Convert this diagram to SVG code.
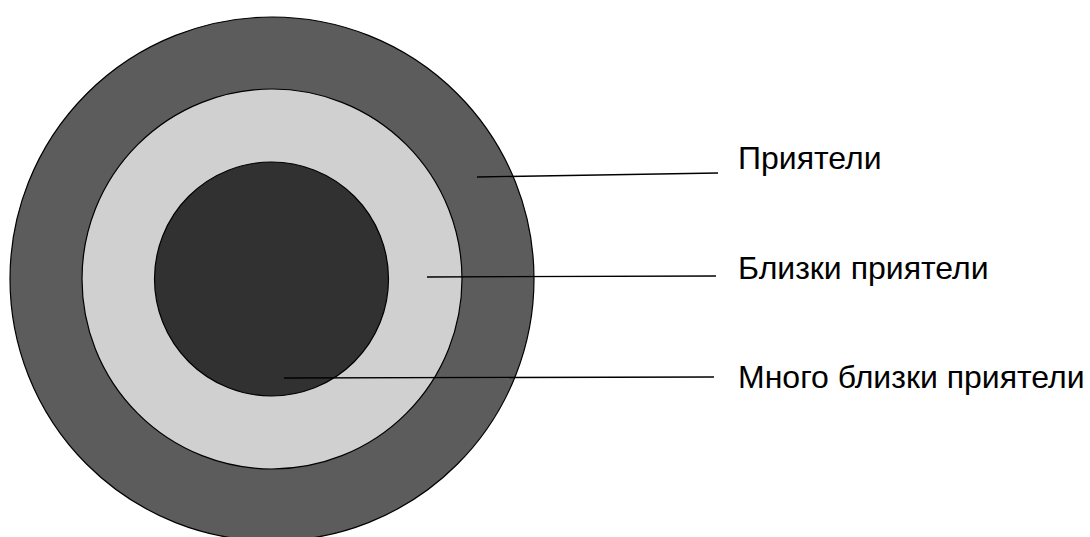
<svg xmlns="http://www.w3.org/2000/svg" width="1090" height="537" viewBox="0 0 1090 537">
<style>
.ring{stroke:#000;stroke-width:1.2}
.lbl{font-family:"Liberation Sans",Arial,sans-serif;font-size:32px;fill:#000}
.conn{stroke:#000;stroke-width:1.3;fill:none}
</style>
<rect width="1090" height="537" fill="#fff"/>
<g id="outer"><circle class="ring" cx="272" cy="279" r="262" fill="#5c5c5c"/></g>
<g id="middle"><circle class="ring" cx="272" cy="279" r="190" fill="#d0d0d0"/></g>
<g id="inner"><circle class="ring" cx="271.5" cy="279" r="117" fill="#313131"/></g>
<g id="connectors">
<line class="conn" x1="477" y1="177" x2="718" y2="173"/>
<line class="conn" x1="427" y1="277" x2="716" y2="276"/>
<line class="conn" x1="284" y1="378" x2="714" y2="377"/>
</g>
<g id="label1"><text class="lbl" x="738" y="169">Приятели</text></g>
<g id="label2"><text class="lbl" x="738" y="279">Близки приятели</text></g>
<g id="label3"><text class="lbl" x="738" y="388">Много близки приятели</text></g>
</svg>
